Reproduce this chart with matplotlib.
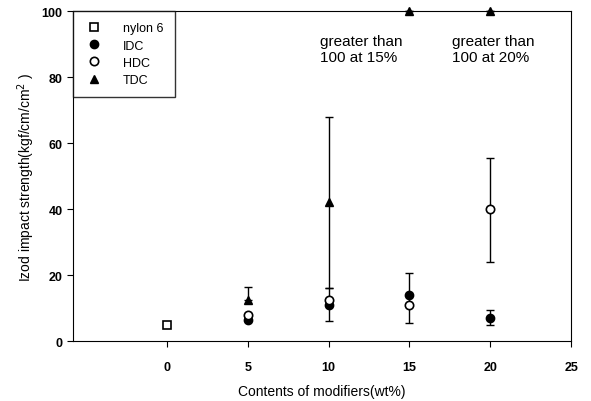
import matplotlib.pyplot as plt

plt.rcParams['font.family'] = ['Liberation Sans', 'DejaVu Sans']

# nylon 6 (neat)
nylon_x = [0]
nylon_y = [5]

# IDC
idc_x = [5, 10, 15, 20]
idc_y = [6.5, 11, 14, 7]
idc_lo = [0, 0, 0, 5]
idc_hi = [0, 0, 0, 9.5]

# HDC
hdc_x = [5, 10, 15, 20]
hdc_y = [8, 12.5, 11, 40]
hdc_lo = [0, 6, 5.5, 24]
hdc_hi = [0, 16, 20.5, 55.5]

# TDC (15 and 20 wt% went above 100, drawn at the top)
tdc_x = [5, 10, 15, 20]
tdc_y = [12.5, 42, 100, 100]
tdc_lo = [0, 16, 100, 100]
tdc_hi = [16.5, 68, 100, 100]

fig = plt.figure(figsize=(5.91, 4.02), dpi=100)
ax = fig.add_axes([0.1235, 0.149, 0.843, 0.821])


def err(x, y, lo, hi):
    ylo = [yy - l if l else 0 for yy, l in zip(y, lo)]
    yhi = [h - yy if h else 0 for yy, h in zip(y, hi)]
    ax.errorbar(x, y, yerr=[ylo, yhi], fmt='none', ecolor='black',
                elinewidth=1, capsize=3, capthick=1, clip_on=False)


err(hdc_x, hdc_y, hdc_lo, hdc_hi)
err(idc_x, idc_y, idc_lo, idc_hi)
err(tdc_x, tdc_y, tdc_lo, tdc_hi)

ax.plot(nylon_x, nylon_y, 's', mfc='white', mec='black', ms=6, mew=1.2,
        label='nylon 6', clip_on=False)
ax.plot(idc_x, idc_y, 'o', color='black', ms=6, label='IDC', clip_on=False)
ax.plot(hdc_x, hdc_y, 'o', mfc='white', mec='black', ms=6, mew=1.2,
        label='HDC', clip_on=False)
ax.plot(tdc_x, tdc_y, '^', color='black', ms=6, label='TDC', clip_on=False)

ax.text(9.5, 84, 'greater than\n100 at 15%', fontsize=11, va='bottom')
ax.text(17.6, 84, 'greater than\n100 at 20%', fontsize=11, va='bottom')

ax.set_xlim(-5.8, 25)
ax.set_ylim(0, 100)
ax.set_xticks([0, 5, 10, 15, 20, 25])
ax.set_yticks([0, 20, 40, 60, 80, 100])
ax.tick_params(axis='both', labelsize=9, direction='out', length=4)
for lab in ax.get_xticklabels() + ax.get_yticklabels():
    lab.set_fontweight('bold')
ax.tick_params(axis='x', pad=10)

ax.set_xlabel('Contents of modifiers(wt%)', fontsize=10, labelpad=8)
ax.set_ylabel('Izod impact strength(kgf/cm/cm$^2$ )', fontsize=10, labelpad=3)

leg = ax.legend(loc='upper left', fontsize=9, frameon=True, fancybox=False,
                edgecolor='black', borderaxespad=0, handletextpad=1.6,
                labelspacing=0.42, borderpad=0.9, handlelength=1.5)
leg.get_frame().set_linewidth(1)

fig.savefig('out.png', dpi=100)
